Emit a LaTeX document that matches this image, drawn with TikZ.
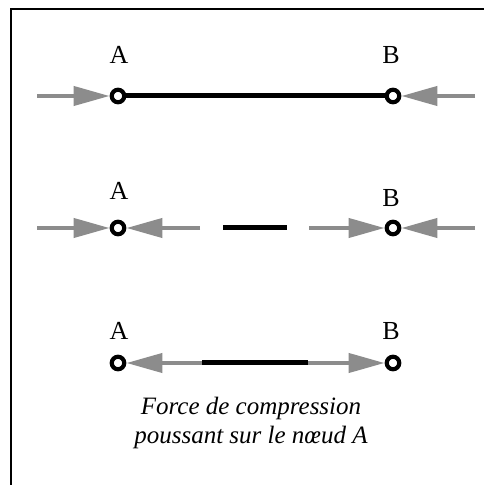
\documentclass[tikz,border=0pt]{standalone}
\usepackage{fontspec}
\setmainfont{Liberation Serif}
\usetikzlibrary{arrows.meta}
\definecolor{forcegray}{RGB}{140,140,140}
\begin{document}
\begin{tikzpicture}[x=1pt,y=1pt,
  joint/.style={circle,draw=black,line width=4.2pt,minimum size=12.5pt,inner sep=0pt,fill=white},
  force/.style={draw=forcegray,line width=4pt,-{Triangle[length=36pt,width=19pt,fill=forcegray]}},
  bar/.style={line width=5pt,black},
  lbl/.style={font=\fontsize{26}{30}\selectfont},
  caption/.style={font=\fontsize{25}{29}\selectfont\itshape,align=center}
]
\useasboundingbox (0,0) rectangle (484,485);
\draw[line width=2pt] (10.5,0) -- (10.5,475.5) -- (484,475.5);

% row 1
\node[joint] (A1) at (118,389) {};
\node[joint] (B1) at (393,389) {};
\node[lbl] (lA1) at (119,430) {A};
\node[lbl] (lB1) at (391,430) {B};
\coordinate (f1l) at (37,389);
\coordinate (f1r) at (475,389);
\draw[bar] (A1) -- (B1);
\draw[force] (f1l) -- (A1);
\draw[force] (f1r) -- (B1);

% row 2
\node[joint] (A2) at (118,257) {};
\node[joint] (B2) at (393,257) {};
\node[lbl] (lA2) at (119,294) {A};
\node[lbl] (lB2) at (391,287) {B};
\coordinate (f2a) at (37,257);
\coordinate (f2b) at (200,257);
\coordinate (m2a) at (223,257);
\coordinate (m2b) at (287,257);
\coordinate (f2c) at (309,257);
\coordinate (f2d) at (475,257);
\draw[force] (f2a) -- (A2);
\draw[force] (f2b) -- (A2);
\draw[bar] (m2a) -- (m2b);
\draw[force] (f2c) -- (B2);
\draw[force] (f2d) -- (B2);

% row 3
\node[joint] (A3) at (118,122) {};
\node[joint] (B3) at (393,122) {};
\node[lbl] (lA3) at (119,154) {A};
\node[lbl] (lB3) at (391,154) {B};
\coordinate (c3l) at (202,122);
\coordinate (c3r) at (308,122);
\draw[bar] (c3l) -- (c3r);
\draw[force] (c3l) -- (A3);
\draw[force] (c3r) -- (B3);

\node[caption] (cap) at (251,62) {Force de compression\\poussant sur le nœud A};
\end{tikzpicture}
\end{document}
